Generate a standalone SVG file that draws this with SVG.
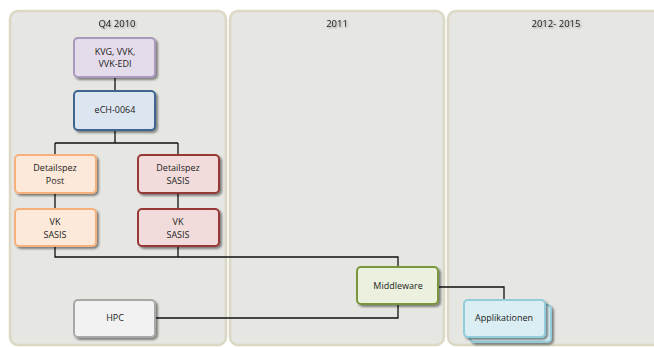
<svg xmlns="http://www.w3.org/2000/svg" width="654" height="347" viewBox="0 0 654 347">
<defs>
<filter id="sh" x="-20%" y="-20%" width="150%" height="160%">
<feGaussianBlur in="SourceAlpha" stdDeviation="1.2"/>
<feOffset dx="1.5" dy="1.5" result="b"/>
<feComponentTransfer><feFuncA type="linear" slope="0.45"/></feComponentTransfer>
<feMerge><feMergeNode/><feMergeNode in="SourceGraphic"/></feMerge>
</filter>
<filter id="tsh" x="-20%" y="-50%" width="140%" height="200%">
<feGaussianBlur in="SourceAlpha" stdDeviation="0.8"/>
<feOffset dx="0.6" dy="1" result="b"/>
<feComponentTransfer><feFuncA type="linear" slope="0.4"/></feComponentTransfer>
<feMerge><feMergeNode/><feMergeNode in="SourceGraphic"/></feMerge>
</filter>
</defs>
<style>
.panel{fill:#e6e6e2;stroke:#dcd8c3;stroke-width:2.5}
.ptitle{font-family:"Open Sans","Liberation Sans",sans-serif;font-size:9.5px;fill:#222;text-anchor:middle}
.box{stroke-width:2;filter:url(#sh)}
.lbl{font-family:"Open Sans","Liberation Sans",sans-serif;font-size:9px;fill:#222;text-anchor:middle}
.conn{fill:none;stroke:#111;stroke-width:1.3}
.purple{fill:#e5dceb;stroke:#ab98bd}
.blue{fill:#dce6f1;stroke:#3d6590}
.orange{fill:#fde9d9;stroke:#f6b07c}
.red{fill:#f2dcdb;stroke:#963936}
.green{fill:#ebf1de;stroke:#7a963e}
.grey{fill:#f2f2f2;stroke:#a8a8a8}
.cyan{fill:#dbeef3;stroke:#92cddc}
</style>
<rect width="654" height="347" fill="#ffffff"/>
<g id="panels">
<g id="panel-q4-2010">
<rect class="panel" x="10" y="11" width="216" height="334" rx="8"/>
<text class="ptitle" x="117" y="27" filter="url(#tsh)">Q4 2010</text>
</g>
<g id="panel-2011">
<rect class="panel" x="230" y="11" width="214" height="334" rx="8"/>
<text class="ptitle" x="337" y="27" filter="url(#tsh)">2011</text>
</g>
<g id="panel-2012-2015">
<rect class="panel" x="448" y="11" width="216" height="334" rx="8"/>
<text class="ptitle" x="556" y="27" filter="url(#tsh)">2012- 2015</text>
</g>
</g>
<g id="connectors">
<path class="conn" d="M115 77V91"/>
<path class="conn" d="M115 130V143M55 143H178M55 143V155M178 143V155"/>
<path class="conn" d="M55 193V209M178 193V209"/>
<path class="conn" d="M55 246V257H398V267M178 246V257"/>
<path class="conn" d="M155 318H398V304"/>
<path class="conn" d="M438 287H504V300"/>
</g>
<g id="node-kvg">
<rect class="box purple" x="74" y="38" width="81" height="39" rx="4"/>
<text class="lbl" x="115" y="55">KVG, VVK,</text>
<text class="lbl" x="115" y="67">VVK-EDI</text>
</g>
<g id="node-ech">
<rect class="box blue" x="74" y="91" width="81" height="39" rx="4"/>
<text class="lbl" x="115" y="113">eCH-0064</text>
</g>
<g id="node-detail-post">
<rect class="box orange" x="15" y="155" width="81" height="38" rx="4"/>
<text class="lbl" x="55" y="171">Detailspez</text>
<text class="lbl" x="55" y="184">Post</text>
</g>
<g id="node-detail-sasis">
<rect class="box red" x="138" y="155" width="81" height="38" rx="4"/>
<text class="lbl" x="178" y="171">Detailspez</text>
<text class="lbl" x="178" y="184">SASIS</text>
</g>
<g id="node-vk-post">
<rect class="box orange" x="15" y="209" width="81" height="37" rx="4"/>
<text class="lbl" x="55" y="225">VK</text>
<text class="lbl" x="55" y="238">SASIS</text>
</g>
<g id="node-vk-sasis">
<rect class="box red" x="138" y="209" width="81" height="37" rx="4"/>
<text class="lbl" x="178" y="225">VK</text>
<text class="lbl" x="178" y="238">SASIS</text>
</g>
<g id="node-hpc">
<rect class="box grey" x="74" y="300" width="81" height="37" rx="4"/>
<text class="lbl" x="115" y="321">HPC</text>
</g>
<g id="node-middleware">
<rect class="box green" x="357" y="267" width="81" height="37" rx="4"/>
<text class="lbl" x="398" y="289">Middleware</text>
</g>
<g id="node-applikationen">
<rect class="box cyan" x="470" y="305" width="81" height="37" rx="4"/>
<rect class="box cyan" x="464" y="300" width="81" height="37" rx="4"/>
<text class="lbl" x="504" y="321">Applikationen</text>
</g>
</svg>
